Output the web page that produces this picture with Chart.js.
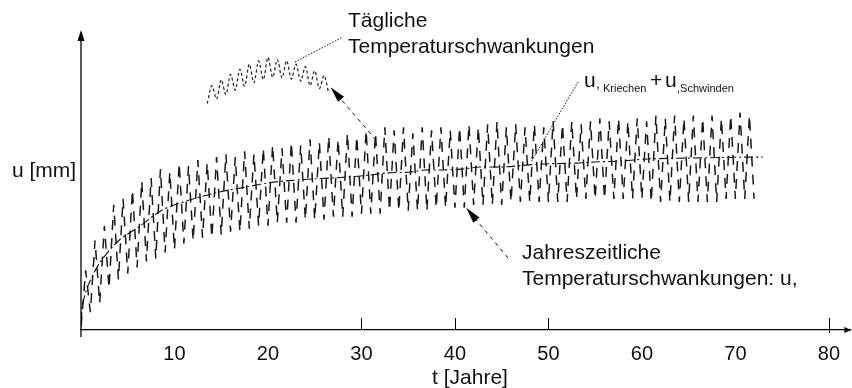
<!DOCTYPE html>
<html lang="de">
<head>
<meta charset="UTF-8">
<title>Verformung u über die Zeit</title>
<script src="https://cdn.jsdelivr.net/npm/chart.js"></script>
<style>
  html, body { margin: 0; padding: 0; background: #fff; }
  canvas { display: block; }
</style>
</head>
<body>
<canvas id="chart" width="852" height="388"></canvas>
<script>
// Jahreszeitliche Schwankung: Sommerwerte bei t = 0.5, 1.5, ... und Winterwerte bei t = 0, 1, 2, ...
const uSommer = [20, 30, 35, 42, 44, 47, 50, 51, 54, 53, 56, 55, 57, 56, 58, 59, 58, 60, 59, 61,
                 62, 61, 63, 62, 64, 63, 65, 64, 66, 65, 67, 66, 68, 67, 68, 66, 68, 67, 68, 67,
                 68, 69, 68, 69, 70, 68, 69, 68, 69, 68, 70, 69, 70, 69, 70, 71, 70, 71, 70, 71,
                 70, 72, 71, 72, 71, 72, 71, 72, 71, 72, 73, 72];
const uWinter = [1, 6, 9, 14, 17, 19, 21, 23, 24, 26, 27, 29, 30, 31, 31, 32, 33, 33, 34, 35,
                 35, 36, 36, 36, 37, 37, 37, 38, 38, 38, 39, 39, 39, 40, 40, 40, 40, 40, 41, 41,
                 41, 41, 42, 42, 42, 42, 43, 43, 43, 43, 43, 43, 43, 44, 44, 44, 44, 44, 44, 44,
                 44, 43, 43, 43, 43, 43, 43, 43, 43, 44, 44, 44, 44];

// Kriechen + Schwinden
const tMittel = [0.05, 0.15, 0.7, 2.0, 4.1, 6.2, 8.7, 11.6, 14.8, 17.7, 19.9, 21.8, 24.8, 28.4,
                 30.9, 32.7, 35.2, 36.8, 38.7, 40.7, 42.7, 45.1, 49.2, 52.9, 55.0, 57.7, 60.6,
                 65.2, 70.9, 72.9];
const uMittel = [3, 8, 14.5, 22.5, 30.2, 34.6, 40.3, 43.6, 46.3, 48, 49.3, 50, 50.7, 51.3,
                 52, 52.7, 53, 53.7, 53.7, 54, 54.7, 54.7, 55.7, 56, 56.4, 56.7, 57.4,
                 57.7, 58, 58];

// Tägliche Schwankungen (vergrößert dargestellt)
const tTag = [13.5, 14, 14.5, 15, 15.5, 16, 16.5, 17, 17.5, 18, 18.5, 19, 19.5, 20,
              20.5, 21, 21.5, 22, 22.5, 23, 23.5, 24, 24.5, 25, 25.5, 26, 26.5];
const uTag = [76, 82, 77.5, 84, 79, 85.8, 80.5, 87.5, 81.8, 89.2, 83, 90.3, 84, 91.5,
              84.8, 90.8, 84.6, 90.4, 84.2, 89.2, 83.5, 88.4, 82, 87, 81, 85.4, 79.4];

const xTickLabels = [10, 20, 30, 40, 50, 60, 70, 80];
const xTickMarks = [30, 40, 50, 80];

const FONT = '"Liberation Sans", Arial, sans-serif';
const INK = '#111';

// Jahresgang als Zickzack aus Winter- und Sommerwerten
const saison = [];
uWinter.forEach((u, i) => {
  saison.push({ x: i, y: u });
  if (i < uSommer.length) saison.push({ x: i + 0.5, y: uSommer[i] });
});

function arrow(ctx, x1, y1, x2, y2) {
  // gestrichelte Linie von (x1,y1) zur Spitze (x2,y2) mit gefüllter Spitze
  const a = Math.atan2(y2 - y1, x2 - x1);
  const len = 16, w = 4;
  ctx.save();
  ctx.strokeStyle = INK;
  ctx.lineWidth = 1;
  ctx.setLineDash([4, 4]);
  ctx.beginPath();
  ctx.moveTo(x1, y1);
  ctx.lineTo(x2 - Math.cos(a) * len, y2 - Math.sin(a) * len);
  ctx.stroke();
  ctx.setLineDash([]);
  ctx.fillStyle = '#000';
  ctx.beginPath();
  ctx.moveTo(x2, y2);
  ctx.lineTo(x2 - Math.cos(a) * len - Math.sin(a) * w, y2 - Math.sin(a) * len + Math.cos(a) * w);
  ctx.lineTo(x2 - Math.cos(a) * len + Math.sin(a) * w, y2 - Math.sin(a) * len - Math.cos(a) * w);
  ctx.closePath();
  ctx.fill();
  ctx.restore();
}

function leader(ctx, x1, y1, x2, y2) {
  ctx.save();
  ctx.strokeStyle = INK;
  ctx.lineWidth = 1;
  ctx.setLineDash([1.5, 1.5]);
  ctx.beginPath();
  ctx.moveTo(x1, y1);
  ctx.lineTo(x2, y2);
  ctx.stroke();
  ctx.restore();
}

const beschriftung = {
  id: 'beschriftung',
  afterDraw(chart) {
    const { ctx, scales: { x, y }, chartArea: ca } = chart;
    const x0 = x.getPixelForValue(0);
    const yb = ca.bottom;
    ctx.save();

    // u-Achse mit Pfeil
    ctx.strokeStyle = '#000';
    ctx.lineWidth = 1.3;
    ctx.beginPath();
    ctx.moveTo(x0, yb + 7);
    ctx.lineTo(x0, ca.top + 6);
    ctx.stroke();
    ctx.fillStyle = '#000';
    ctx.beginPath();
    ctx.moveTo(x0, ca.top - 2);
    ctx.lineTo(x0 - 3.5, ca.top + 9);
    ctx.lineTo(x0 + 3.5, ca.top + 9);
    ctx.closePath();
    ctx.fill();

    // Pfeil am Ende der t-Achse
    ctx.beginPath();
    ctx.moveTo(ca.right + 1, yb);
    ctx.lineTo(ca.right - 6, yb - 3);
    ctx.lineTo(ca.right - 6, yb + 3);
    ctx.closePath();
    ctx.fill();

    // Teilstriche
    ctx.lineWidth = 1;
    xTickMarks.forEach(v => {
      const px = Math.round(x.getPixelForValue(v)) + 0.5;
      ctx.beginPath();
      ctx.moveTo(px, yb - 12);
      ctx.lineTo(px, yb + (v === 80 ? 3 : 0));
      ctx.stroke();
    });

    // Texte
    ctx.fillStyle = INK;
    ctx.textBaseline = 'alphabetic';
    ctx.textAlign = 'left';
    ctx.font = '21px ' + FONT;
    ctx.fillText('u [mm]', 12, 177);
    ctx.fillText('Tägliche', 348, 27);
    ctx.fillText('Temperaturschwankungen', 348, 53);
    ctx.fillText('Jahreszeitliche', 522, 259);
    ctx.fillText('Temperaturschwankungen: u,', 522, 285);
    ctx.textAlign = 'center';
    ctx.fillText('t [Jahre]', 470, 384);
    ctx.textAlign = 'left';

    ctx.fillText('u', 584, 87);
    ctx.fillText('+', 650, 87);
    ctx.fillText('u', 665, 87);
    ctx.font = '14px ' + FONT;
    ctx.fillText(',', 596, 88);
    ctx.font = '11px ' + FONT;
    ctx.fillText('Kriechen', 603, 92);
    ctx.fillText(',Schwinden', 677, 92);

    // Hinweislinien und Pfeile
    leader(ctx, 295, 62, 343, 37);
    leader(ctx, 578, 82, 531, 162);
    arrow(ctx, 376, 140, x.getPixelForValue(26.7), y.getPixelForValue(81.5));
    arrow(ctx, 508, 258, x.getPixelForValue(41.2), y.getPixelForValue(41));
    ctx.restore();
  }
};

new Chart(document.getElementById('chart'), {
  type: 'line',
  data: {
    datasets: [
      {
        label: 'Tägliche Temperaturschwankungen',
        data: tTag.map((t, i) => ({ x: t, y: uTag[i] })),
        borderColor: '#222',
        borderWidth: 1.2,
        borderDash: [3, 2.5],
        tension: 0.3,
        pointRadius: 0,
        order: 1
      },
      {
        label: 'u,Kriechen + u,Schwinden',
        data: tMittel.map((t, i) => ({ x: t, y: uMittel[i] })),
        borderColor: '#111',
        borderWidth: 1.1,
        borderDash: [9, 3, 2, 3],
        tension: 0.3,
        pointRadius: 0,
        order: 2
      },
      {
        label: 'Jahreszeitliche Temperaturschwankungen',
        data: saison,
        borderColor: '#1a1a1a',
        borderWidth: 1.5,
        borderDash: [10, 8],
        tension: 0,
        pointRadius: 0,
        order: 3
      }
    ]
  },
  options: {
    responsive: false,
    animation: false,
    devicePixelRatio: 1,
    layout: { padding: { left: 81, right: 0, top: 32, bottom: 0 } },
    plugins: { legend: { display: false }, tooltip: { enabled: false } },
    scales: {
      x: {
        type: 'linear',
        min: 0,
        max: 82.3,
        afterBuildTicks: scale => { scale.ticks = xTickLabels.map(v => ({ value: v })); },
        afterFit: scale => { scale.height = 58; },
        grid: { display: false, drawTicks: false },
        border: { display: true, color: '#000', width: 1.3 },
        ticks: {
          padding: 12,
          autoSkip: false,
          maxRotation: 0,
          color: INK,
          font: { family: FONT, size: 20 }
        },
        title: { display: false }
      },
      y: { display: false, min: 0, max: 100 }
    }
  },
  plugins: [beschriftung]
});
</script>
</body>
</html>
